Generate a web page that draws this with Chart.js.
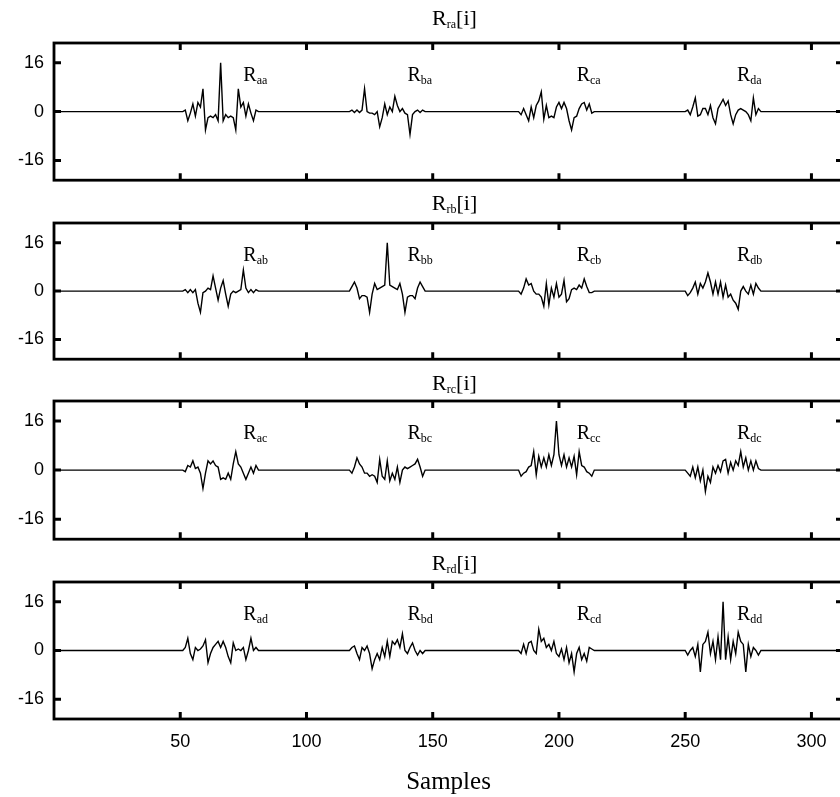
<!DOCTYPE html>
<html lang="en">
<head>
    <meta charset="UTF-8">
    <title>R[i] correlations</title>
    <style>
        html, body {margin: 0; padding: 0; background: #fff;}
        .wrap {position: relative; width: 840px; height: 797px; overflow: hidden;}
        .wrap canvas {position: absolute; left: 0;}
    </style>
</head>
<body>
    <div class="wrap">
        <canvas id="c0" width="850" height="201" style="top:0px"></canvas>
        <canvas id="c1" width="850" height="195" style="top:185px"></canvas>
        <canvas id="c2" width="850" height="195" style="top:365px"></canvas>
        <canvas id="c3" width="850" height="252" style="top:545px"></canvas>
    </div>
    <script src="https://cdn.jsdelivr.net/npm/chart.js@4.4.0/dist/chart.umd.min.js"></script>
    <script>
        // sample index of the middle of each burst (lag 0)
        const burstCenters = [66, 132, 199, 265];
        const xTicks = [50, 100, 150, 200, 250, 300];
        const yTicks = [-16, 0, 16];

        // each burst: 31 samples, lag -15..15
        const Raa = [0, 0.5, -3, -0.5, 2.5, -1.5, 3, 1.5, 7.5, -6, -2, -1.5, -2, -1, -3, 16, -3, -1, -2, -1.5, -2, -6, 7.5, 1.5, 3, -1.5, 2.5, -0.5, -3, 0.5, 0];
        const Rba = [0, 0.5, -0.3, 0.5, -0.3, 0.5, 7.5, 0, -0.5, -0.5, -1, 0, -5, -2, 2.5, -1, 1.5, 0, 5, 2, 0, 1, -0.5, -1, -7.5, -1, 0, 0.5, -0.3, 0.5, 0];
        const Rca = [0, -1, 1, -1, -3, 1.5, -2, 2, 3.5, 6.5, -2.5, 2, -2, -1.5, -2, 1.5, 3, 1, 3, 1, -3, -6, -2, -1.5, 1, 2.5, 3, 0.5, 2.5, -0.5, 0];
        const Rda = [0, 0.5, -1, 1.5, 4.5, -1.5, -1, 1, 1, -1, 2, -2, -4, 1, 2.5, 4, 2, 3.5, -1, -4, -1, 0.5, 1, 0.5, 0, -1, -3, 4.5, -1, 1, 0];

        const Rab = [0, 0.5, -0.5, 0.5, -0.5, 0.5, -4, -7, -0.5, 0, 1, 0.5, 5, 1, -3, 1, 3.5, -1, -5, -1, 0, -0.5, 0, 0.5, 7, 1, -0.5, 0.5, -0.5, 0.5, 0];
        const Rbb = [0, 1.5, 3, 1, -2.5, -1.5, -1.5, -2, -7, -1, 2.5, 0.5, 1, 1.5, 2, 16, 2, 1.5, 1, 0.5, 2.5, -1, -7, -2, -1.5, -1.5, -2.5, 1, 3, 1.5, 0];
        const Rcb = [0, -1, 1, 4, 2, 2.5, 0, -1, -1, -2, -5, 2.5, -4.5, 1, -2, 2.5, -2, -1, 3.5, -3.5, -2.5, 0.5, 1, 0.5, 2, 1, 4, 1.5, -0.5, -0.5, 0];
        const Rdb = [0, -1.5, -0.5, 1, 3, -1, 2.5, 1, 3, 6, 3, -1, 3, -1, 3, -2, 2, -2, -1, -3, -4, -6, 0, 1.5, 0, -1, 2, -1, 2.5, 1, 0];

        const Rac = [0, -0.5, 1.5, 1, 3, 0.5, 1, -1, -6, -1, 3, 2, 3, 1.5, 1, -3, -2.5, -3, -1, -3, 2, 6, 2, 1, -1, -3, -1, 1, -1, 1.5, 0];
        const Rbc = [0, -1, 1, 4, 2, 1, -1, -1, -2, -1.5, -2, -4, 3.5, -2, -3, 3, -3.5, -1, -3, 1, -4, 0, 1, 0.5, 1, 1.5, 2, 3.5, 1, -2, 0];
        const Rcc = [0, -2, -1, -0.5, 1, 1.5, 6, -1.5, 4.5, 1, 4, 1, 5, 1.5, 5, 16, 5, 1.5, 5, 1, 4, 1, 4.5, -1.5, 6, 1.5, 1, -0.5, -1, -2, 0];
        const Rdc = [0, -1, -2, 1, -2.5, 1, -3.5, 0, -7, -2, -4, 1, -1, 1.5, -0.5, 3, 3.5, -1, 2.5, 0, 3, 1.5, 6, 1, 4, 0, 3, 0, 3, 0.5, 0];

        const Rad = [0, 1, 4, -1, -3, 1, 0, 0.5, 1.5, 3.5, -4, -1, 1, 2, 3, 1, 3, 1, -2, -4, 2.5, 0, 0.5, 0, 1, -3, 0, 4, 0, 1, 0];
        const Rbd = [0, 1, 1.5, -1, -3, 1, 0, 1.5, -1, -6, -3, -1, -3, 1, -2, 3, -2, 3, 2, 3.5, 1, 5.5, 0, -1, 1, 2.5, 0, -1.5, 0, -1, 0];
        const Rcd = [0, -1, 2, -1, 2.5, 3, 0, -1, 7, 3, 4, 1, 2, 0, 3, -1, -2, 0.5, -3, 1, -4, -1, -7, -1, 1, -3, -1, -3.5, 1, 0.5, 0];
        const Rdd = [0, -1.5, 0, 1, -2, 2, -7, 2, 3, 6, -1, 3, -3, 4.5, -3, 16, -3, 4.5, -3, 3, -1, 6, 3, 2, -7, 2, -2, 1, 0, -1.5, 0];

        // in-plot label anchors (left edge of "R", baseline)
        const labelX = [75, 140, 207, 270.5];
        const labelY = 10;

        const panels = [
            {canvas: 'c0', name: 'ra', sub: 'a', bursts: [Raa, Rba, Rca, Rda], padTop: 43},
            {canvas: 'c1', name: 'rb', sub: 'b', bursts: [Rab, Rbb, Rcb, Rdb], padTop: 38},
            {canvas: 'c2', name: 'rc', sub: 'c', bursts: [Rac, Rbc, Rcc, Rdc], padTop: 36},
            {canvas: 'c3', name: 'rd', sub: 'd', bursts: [Rad, Rbd, Rcd, Rdd], padTop: 37}
        ];

        const serif = '"Liberation Serif", "Times New Roman", serif';
        const sans = '"Liberation Sans", Arial, sans-serif';

        function drawSub(ctx, x, y, main, sub, tail, big, small, drop) {
            ctx.textAlign = 'left';
            ctx.textBaseline = 'alphabetic';
            ctx.font = big + 'px ' + serif;
            ctx.fillText(main, x, y);
            x += ctx.measureText(main).width;
            ctx.font = small + 'px ' + serif;
            ctx.fillText(sub, x, y + drop);
            x += ctx.measureText(sub).width;
            if (tail) {
                ctx.font = big + 'px ' + serif;
                ctx.fillText(tail, x, y);
            }
        }

        function subWidth(ctx, main, sub, tail, big, small) {
            ctx.font = big + 'px ' + serif;
            let w = ctx.measureText(main + tail).width;
            ctx.font = small + 'px ' + serif;
            return w + ctx.measureText(sub).width;
        }

        // box, inward ticks, titles and R labels
        const framePlugin = {
            id: 'frame',
            afterDatasetsDraw(chart, args, opts) {
                const {ctx, chartArea, scales} = chart;
                const {left, right, top, bottom} = chartArea;
                ctx.save();
                ctx.strokeStyle = '#000';
                ctx.fillStyle = '#000';
                ctx.lineWidth = 2.8;
                ctx.strokeRect(left, top, right - left, bottom - top);
                ctx.lineWidth = 3;
                ctx.beginPath();
                xTicks.forEach(v => {
                    const px = scales.x.getPixelForValue(v);
                    ctx.moveTo(px, top); ctx.lineTo(px, top + 7);
                    ctx.moveTo(px, bottom); ctx.lineTo(px, bottom - 7);
                });
                yTicks.forEach(v => {
                    const py = scales.y.getPixelForValue(v);
                    ctx.moveTo(left, py); ctx.lineTo(left + 7, py);
                    ctx.moveTo(right, py); ctx.lineTo(right - 7, py);
                });
                ctx.stroke();

                ['a', 'b', 'c', 'd'].forEach((c, j) => {
                    drawSub(ctx, scales.x.getPixelForValue(labelX[j]), scales.y.getPixelForValue(labelY),
                        'R', c + opts.sub, '', 20, 12, 3);
                });

                const w = subWidth(ctx, 'R', opts.name, '[i]', 22, 12);
                const cx = (left + right) / 2 + 6;
                drawSub(ctx, cx - w / 2, 25, 'R', opts.name, '[i]', 22, 12, 3);
                ctx.restore();
            }
        };

        panels.forEach((p, idx) => {
            const last = idx === panels.length - 1;
            const points = [{x: 0, y: 0}];
            p.bursts.forEach((vals, j) => {
                vals.forEach((v, k) => points.push({x: burstCenters[j] - 15 + k, y: v}));
            });
            points.push({x: 312.5, y: 0});

            new Chart(document.getElementById(p.canvas), {
                type: 'line',
                data: {
                    datasets: [{
                        data: points,
                        borderColor: '#000',
                        borderWidth: 1.4,
                        pointRadius: 0,
                        tension: 0,
                        fill: false
                    }]
                },
                plugins: [framePlugin],
                options: {
                    responsive: false,
                    animation: false,
                    devicePixelRatio: 1,
                    layout: {padding: {top: p.padTop, bottom: last ? 0 : 14, left: 0, right: 7}},
                    plugins: {
                        legend: {display: false},
                        tooltip: {enabled: false},
                        frame: {name: p.name, sub: p.sub}
                    },
                    scales: {
                        x: {
                            type: 'linear',
                            min: 0,
                            max: 312.5,
                            display: last,
                            afterBuildTicks: s => { s.ticks = xTicks.map(v => ({value: v})); },
                            afterFit: s => { if (last) s.height = 78; },
                            grid: {display: false, drawTicks: false},
                            border: {display: false},
                            ticks: {font: {family: sans, size: 18}, color: '#000', padding: 12, maxRotation: 0, autoSkip: false},
                            title: {display: true, text: 'Samples', color: '#000', font: {family: serif, size: 25}, padding: {top: 0, bottom: 0}}
                        },
                        y: {
                            min: -22.5,
                            max: 22.5,
                            afterBuildTicks: s => { s.ticks = yTicks.map(v => ({value: v})); },
                            afterFit: s => { s.width = 54; },
                            grid: {display: false, drawTicks: false},
                            border: {display: false},
                            ticks: {font: {family: sans, size: 18}, color: '#000', padding: 10}
                        }
                    }
                }
            });
        });
    </script>
</body>
</html>
